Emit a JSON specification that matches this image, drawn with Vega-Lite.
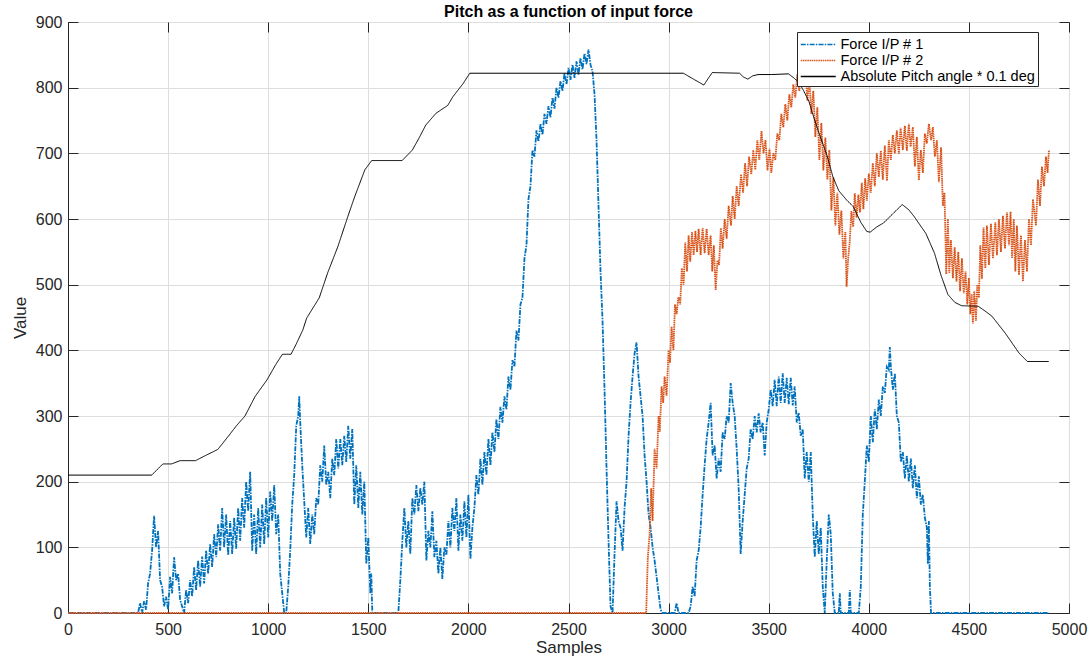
{
"$schema": "https://vega.github.io/schema/vega-lite/v6.json",
"width": 1001,
"height": 591,
"autosize": {"type": "none"},
"padding": {"left": 68, "top": 22, "right": 20, "bottom": 46},
"background": "white",
"title": {"text": "Pitch as a function of input force", "fontSize": 16, "fontWeight": "bold", "font": "Liberation Sans", "color": "#000000", "offset": -6, "anchor": "middle"},
"config": {
  "font": "Liberation Sans",
  "view": {"stroke": "#262626", "strokeWidth": 1},
  "axis": {"domainColor": "#262626", "tickColor": "#262626", "labelColor": "#262626", "titleColor": "#262626", "labelFontSize": 16, "titleFontSize": 17, "titleFontWeight": "normal", "gridColor": "#dedede", "gridOpacity": 1, "tickSize": -10, "labelPadding": 18, "labelFont": "Liberation Sans", "titleFont": "Liberation Sans", "format": "d"},
  "legend": {"orient": "none", "legendX": 729, "legendY": 10, "title": null, "strokeColor": "#262626", "fillColor": "white", "padding": 3, "symbolType": "M-1,0H3", "symbolSize": 306, "symbolStrokeWidth": 1.5, "labelFontSize": 14.5, "labelColor": "#000000", "rowPadding": -1, "labelOffset": 21.5, "labelFont": "Liberation Sans", "labelLimit": 400}
},
"datasets": {
"f1": [
{"x":0,"y":0},{"x":350,"y":0},{"x":360,"y":15},{"x":370,"y":0},{"x":380,"y":18},{"x":390,"y":5},{"x":400,"y":45},{"x":410,"y":60},{"x":420,"y":95},{"x":430,"y":148},{"x":440,"y":100},{"x":450,"y":125},{"x":460,"y":50},{"x":470,"y":40},{"x":480,"y":10},{"x":490,"y":25},{"x":500,"y":5},{"x":510,"y":55},{"x":520,"y":30},{"x":530,"y":85},{"x":540,"y":50},{"x":550,"y":60},{"x":560,"y":20},{"x":570,"y":10},{"x":580,"y":0},{"x":590,"y":35},{"x":600,"y":15},{"x":610,"y":50},{"x":620,"y":25},{"x":630,"y":70},{"x":640,"y":35},{"x":650,"y":80},{"x":660,"y":40},{"x":670,"y":86},{"x":680,"y":45},{"x":690,"y":95},{"x":700,"y":60},{"x":710,"y":105},{"x":720,"y":70},{"x":730,"y":120},{"x":740,"y":85},{"x":750,"y":135},{"x":760,"y":95},{"x":770,"y":160},{"x":780,"y":100},{"x":790,"y":150},{"x":800,"y":88},{"x":810,"y":140},{"x":820,"y":90},{"x":830,"y":145},{"x":840,"y":98},{"x":850,"y":160},{"x":860,"y":110},{"x":870,"y":175},{"x":880,"y":130},{"x":890,"y":200},{"x":900,"y":155},{"x":910,"y":215},{"x":920,"y":95},{"x":930,"y":150},{"x":940,"y":90},{"x":950,"y":160},{"x":960,"y":100},{"x":970,"y":165},{"x":980,"y":105},{"x":990,"y":175},{"x":1000,"y":115},{"x":1010,"y":185},{"x":1020,"y":140},{"x":1030,"y":195},{"x":1040,"y":120},{"x":1050,"y":150},{"x":1060,"y":60},{"x":1070,"y":30},{"x":1080,"y":0},{"x":1090,"y":0},{"x":1100,"y":40},{"x":1110,"y":95},{"x":1120,"y":165},{"x":1130,"y":210},{"x":1140,"y":285},{"x":1150,"y":300},{"x":1155,"y":330},{"x":1160,"y":290},{"x":1170,"y":225},{"x":1180,"y":170},{"x":1190,"y":115},{"x":1200,"y":160},{"x":1210,"y":105},{"x":1220,"y":150},{"x":1230,"y":120},{"x":1240,"y":175},{"x":1250,"y":165},{"x":1260,"y":225},{"x":1270,"y":200},{"x":1280,"y":255},{"x":1290,"y":195},{"x":1300,"y":215},{"x":1310,"y":175},{"x":1320,"y":235},{"x":1330,"y":210},{"x":1340,"y":265},{"x":1350,"y":220},{"x":1360,"y":265},{"x":1370,"y":225},{"x":1380,"y":270},{"x":1390,"y":230},{"x":1400,"y":285},{"x":1410,"y":235},{"x":1420,"y":280},{"x":1430,"y":165},{"x":1440,"y":225},{"x":1450,"y":160},{"x":1460,"y":215},{"x":1470,"y":150},{"x":1480,"y":200},{"x":1490,"y":75},{"x":1500,"y":115},{"x":1510,"y":30},{"x":1515,"y":60},{"x":1520,"y":0},{"x":1650,"y":0},{"x":1660,"y":50},{"x":1670,"y":110},{"x":1680,"y":160},{"x":1690,"y":100},{"x":1700,"y":140},{"x":1710,"y":90},{"x":1720,"y":175},{"x":1730,"y":150},{"x":1740,"y":195},{"x":1750,"y":155},{"x":1760,"y":190},{"x":1770,"y":165},{"x":1780,"y":200},{"x":1790,"y":80},{"x":1800,"y":125},{"x":1810,"y":100},{"x":1820,"y":155},{"x":1830,"y":85},{"x":1840,"y":110},{"x":1850,"y":60},{"x":1860,"y":100},{"x":1870,"y":52},{"x":1880,"y":100},{"x":1890,"y":88},{"x":1900,"y":140},{"x":1910,"y":100},{"x":1920,"y":160},{"x":1930,"y":125},{"x":1940,"y":175},{"x":1950,"y":95},{"x":1960,"y":150},{"x":1970,"y":110},{"x":1980,"y":170},{"x":1990,"y":115},{"x":2000,"y":180},{"x":2010,"y":82},{"x":2020,"y":130},{"x":2030,"y":160},{"x":2040,"y":210},{"x":2050,"y":180},{"x":2060,"y":235},{"x":2070,"y":195},{"x":2080,"y":245},{"x":2090,"y":210},{"x":2100,"y":265},{"x":2110,"y":225},{"x":2120,"y":275},{"x":2130,"y":245},{"x":2140,"y":295},{"x":2150,"y":265},{"x":2160,"y":314},{"x":2170,"y":290},{"x":2180,"y":330},{"x":2190,"y":310},{"x":2200,"y":360},{"x":2210,"y":340},{"x":2220,"y":385},{"x":2230,"y":375},{"x":2240,"y":430},{"x":2250,"y":415},{"x":2260,"y":470},{"x":2270,"y":480},{"x":2280,"y":540},{"x":2290,"y":560},{"x":2300,"y":630},{"x":2310,"y":650},{"x":2320,"y":705},{"x":2330,"y":695},{"x":2340,"y":735},{"x":2350,"y":718},{"x":2360,"y":745},{"x":2370,"y":728},{"x":2380,"y":760},{"x":2390,"y":745},{"x":2400,"y":772},{"x":2410,"y":755},{"x":2420,"y":785},{"x":2430,"y":768},{"x":2440,"y":800},{"x":2450,"y":785},{"x":2460,"y":810},{"x":2470,"y":795},{"x":2480,"y":822},{"x":2490,"y":805},{"x":2500,"y":830},{"x":2510,"y":812},{"x":2520,"y":835},{"x":2530,"y":815},{"x":2540,"y":840},{"x":2550,"y":820},{"x":2560,"y":845},{"x":2570,"y":828},{"x":2580,"y":852},{"x":2590,"y":836},{"x":2600,"y":858},{"x":2610,"y":835},{"x":2620,"y":825},{"x":2630,"y":790},{"x":2640,"y":720},{"x":2650,"y":620},{"x":2660,"y":520},{"x":2670,"y":445},{"x":2680,"y":340},{"x":2690,"y":220},{"x":2700,"y":110},{"x":2710,"y":10},{"x":2720,"y":0},{"x":2730,"y":90},{"x":2740,"y":170},{"x":2750,"y":140},{"x":2760,"y":130},{"x":2770,"y":95},{"x":2780,"y":160},{"x":2790,"y":200},{"x":2800,"y":270},{"x":2810,"y":320},{"x":2820,"y":360},{"x":2830,"y":395},{"x":2840,"y":412},{"x":2850,"y":360},{"x":2860,"y":330},{"x":2870,"y":300},{"x":2880,"y":240},{"x":2890,"y":200},{"x":2900,"y":150},{"x":2910,"y":130},{"x":2920,"y":100},{"x":2930,"y":80},{"x":2940,"y":55},{"x":2950,"y":30},{"x":2960,"y":5},{"x":2970,"y":0},{"x":3030,"y":0},{"x":3040,"y":15},{"x":3050,"y":0},{"x":3100,"y":0},{"x":3110,"y":10},{"x":3120,"y":40},{"x":3130,"y":25},{"x":3140,"y":80},{"x":3150,"y":95},{"x":3160,"y":130},{"x":3170,"y":180},{"x":3180,"y":225},{"x":3190,"y":265},{"x":3200,"y":290},{"x":3210,"y":320},{"x":3220,"y":240},{"x":3230,"y":255},{"x":3240,"y":205},{"x":3250,"y":235},{"x":3260,"y":215},{"x":3270,"y":275},{"x":3280,"y":265},{"x":3290,"y":300},{"x":3300,"y":290},{"x":3310,"y":350},{"x":3320,"y":320},{"x":3330,"y":300},{"x":3340,"y":250},{"x":3350,"y":190},{"x":3360,"y":90},{"x":3370,"y":140},{"x":3380,"y":180},{"x":3390,"y":220},{"x":3400,"y":235},{"x":3410,"y":280},{"x":3420,"y":265},{"x":3430,"y":300},{"x":3440,"y":275},{"x":3450,"y":304},{"x":3460,"y":275},{"x":3470,"y":290},{"x":3480,"y":240},{"x":3490,"y":290},{"x":3500,"y":310},{"x":3510,"y":340},{"x":3520,"y":315},{"x":3530,"y":355},{"x":3540,"y":315},{"x":3550,"y":360},{"x":3560,"y":320},{"x":3570,"y":365},{"x":3580,"y":320},{"x":3590,"y":358},{"x":3600,"y":318},{"x":3610,"y":358},{"x":3620,"y":316},{"x":3630,"y":345},{"x":3640,"y":290},{"x":3650,"y":305},{"x":3660,"y":270},{"x":3670,"y":280},{"x":3680,"y":205},{"x":3690,"y":245},{"x":3700,"y":200},{"x":3710,"y":245},{"x":3720,"y":150},{"x":3730,"y":85},{"x":3740,"y":140},{"x":3750,"y":90},{"x":3760,"y":130},{"x":3770,"y":40},{"x":3780,"y":0},{"x":3790,"y":80},{"x":3800,"y":150},{"x":3810,"y":120},{"x":3820,"y":30},{"x":3830,"y":0},{"x":3850,"y":0},{"x":3855,"y":30},{"x":3860,"y":0},{"x":3900,"y":0},{"x":3905,"y":35},{"x":3910,"y":0},{"x":3950,"y":0},{"x":3960,"y":40},{"x":3970,"y":150},{"x":3980,"y":200},{"x":3990,"y":255},{"x":4000,"y":230},{"x":4010,"y":300},{"x":4020,"y":260},{"x":4030,"y":310},{"x":4040,"y":280},{"x":4050,"y":325},{"x":4060,"y":300},{"x":4070,"y":345},{"x":4080,"y":335},{"x":4090,"y":375},{"x":4100,"y":370},{"x":4105,"y":405},{"x":4110,"y":375},{"x":4120,"y":340},{"x":4130,"y":365},{"x":4140,"y":300},{"x":4150,"y":290},{"x":4160,"y":230},{"x":4170,"y":245},{"x":4180,"y":205},{"x":4190,"y":240},{"x":4200,"y":200},{"x":4210,"y":235},{"x":4220,"y":190},{"x":4230,"y":225},{"x":4240,"y":175},{"x":4250,"y":208},{"x":4260,"y":165},{"x":4270,"y":180},{"x":4280,"y":145},{"x":4290,"y":130},{"x":4295,"y":75},{"x":4300,"y":140},{"x":4305,"y":40},{"x":4311,"y":0},{"x":4900,"y":0}
],
"f2": [
{"x":0,"y":0},{"x":2888,"y":0},{"x":2896,"y":83},{"x":2905,"y":120},{"x":2913,"y":190},{"x":2920,"y":140},{"x":2930,"y":250},{"x":2940,"y":220},{"x":2950,"y":300},{"x":2956,"y":276},{"x":2965,"y":345},{"x":2973,"y":320},{"x":2980,"y":360},{"x":2990,"y":331},{"x":3000,"y":400},{"x":3007,"y":381},{"x":3015,"y":436},{"x":3024,"y":400},{"x":3032,"y":470},{"x":3040,"y":455},{"x":3049,"y":481},{"x":3058,"y":470},{"x":3066,"y":525},{"x":3075,"y":500},{"x":3083,"y":564},{"x":3092,"y":520},{"x":3100,"y":575},{"x":3108,"y":535},{"x":3117,"y":580},{"x":3125,"y":545},{"x":3134,"y":582},{"x":3142,"y":550},{"x":3150,"y":585},{"x":3160,"y":545},{"x":3170,"y":586},{"x":3180,"y":548},{"x":3190,"y":585},{"x":3200,"y":545},{"x":3210,"y":575},{"x":3218,"y":520},{"x":3226,"y":560},{"x":3235,"y":492},{"x":3244,"y":537},{"x":3252,"y":530},{"x":3261,"y":586},{"x":3270,"y":555},{"x":3280,"y":600},{"x":3290,"y":570},{"x":3300,"y":620},{"x":3312,"y":590},{"x":3320,"y":635},{"x":3330,"y":600},{"x":3340,"y":650},{"x":3350,"y":620},{"x":3362,"y":668},{"x":3372,"y":640},{"x":3382,"y":685},{"x":3392,"y":650},{"x":3402,"y":695},{"x":3413,"y":668},{"x":3423,"y":705},{"x":3433,"y":675},{"x":3443,"y":720},{"x":3453,"y":690},{"x":3464,"y":734},{"x":3474,"y":700},{"x":3484,"y":720},{"x":3494,"y":674},{"x":3504,"y":707},{"x":3513,"y":670},{"x":3523,"y":700},{"x":3533,"y":690},{"x":3543,"y":730},{"x":3553,"y":720},{"x":3563,"y":760},{"x":3573,"y":740},{"x":3583,"y":775},{"x":3593,"y":750},{"x":3603,"y":790},{"x":3613,"y":770},{"x":3623,"y":805},{"x":3633,"y":785},{"x":3643,"y":820},{"x":3653,"y":795},{"x":3663,"y":830},{"x":3673,"y":812},{"x":3683,"y":834},{"x":3693,"y":780},{"x":3703,"y":813},{"x":3713,"y":760},{"x":3723,"y":795},{"x":3733,"y":725},{"x":3743,"y":770},{"x":3753,"y":690},{"x":3763,"y":746},{"x":3773,"y":674},{"x":3783,"y":724},{"x":3793,"y":660},{"x":3803,"y":705},{"x":3813,"y":613},{"x":3823,"y":663},{"x":3833,"y":590},{"x":3843,"y":640},{"x":3853,"y":576},{"x":3863,"y":613},{"x":3873,"y":540},{"x":3883,"y":580},{"x":3889,"y":497},{"x":3897,"y":540},{"x":3905,"y":566},{"x":3913,"y":612},{"x":3922,"y":588},{"x":3930,"y":639},{"x":3939,"y":602},{"x":3948,"y":637},{"x":3956,"y":610},{"x":3965,"y":655},{"x":3973,"y":615},{"x":3982,"y":662},{"x":3990,"y":628},{"x":4000,"y":669},{"x":4010,"y":640},{"x":4020,"y":685},{"x":4030,"y":650},{"x":4040,"y":700},{"x":4050,"y":664},{"x":4060,"y":704},{"x":4070,"y":660},{"x":4080,"y":712},{"x":4091,"y":658},{"x":4100,"y":720},{"x":4110,"y":690},{"x":4120,"y":728},{"x":4130,"y":700},{"x":4140,"y":735},{"x":4150,"y":699},{"x":4159,"y":739},{"x":4170,"y":705},{"x":4180,"y":742},{"x":4190,"y":704},{"x":4200,"y":745},{"x":4209,"y":710},{"x":4220,"y":740},{"x":4230,"y":680},{"x":4240,"y":725},{"x":4250,"y":659},{"x":4260,"y":705},{"x":4270,"y":670},{"x":4280,"y":730},{"x":4290,"y":715},{"x":4300,"y":745},{"x":4311,"y":720},{"x":4320,"y":740},{"x":4330,"y":695},{"x":4340,"y":720},{"x":4350,"y":656},{"x":4361,"y":709},{"x":4370,"y":620},{"x":4378,"y":640},{"x":4387,"y":516},{"x":4395,"y":600},{"x":4402,"y":518},{"x":4410,"y":568},{"x":4420,"y":510},{"x":4429,"y":557},{"x":4438,"y":505},{"x":4447,"y":550},{"x":4456,"y":490},{"x":4465,"y":540},{"x":4474,"y":487},{"x":4483,"y":520},{"x":4492,"y":470},{"x":4500,"y":510},{"x":4507,"y":455},{"x":4514,"y":486},{"x":4520,"y":441},{"x":4527,"y":490},{"x":4535,"y":445},{"x":4542,"y":500},{"x":4550,"y":480},{"x":4557,"y":560},{"x":4565,"y":509},{"x":4573,"y":587},{"x":4582,"y":525},{"x":4590,"y":590},{"x":4600,"y":530},{"x":4610,"y":593},{"x":4620,"y":540},{"x":4632,"y":595},{"x":4640,"y":545},{"x":4650,"y":600},{"x":4660,"y":550},{"x":4670,"y":605},{"x":4680,"y":555},{"x":4690,"y":610},{"x":4700,"y":560},{"x":4708,"y":611},{"x":4716,"y":540},{"x":4724,"y":600},{"x":4732,"y":520},{"x":4740,"y":590},{"x":4750,"y":515},{"x":4760,"y":575},{"x":4770,"y":505},{"x":4780,"y":568},{"x":4790,"y":520},{"x":4800,"y":600},{"x":4810,"y":560},{"x":4820,"y":630},{"x":4835,"y":590},{"x":4845,"y":660},{"x":4855,"y":620},{"x":4865,"y":680},{"x":4875,"y":650},{"x":4885,"y":695},{"x":4893,"y":670},{"x":4900,"y":705}
],
"p": [
{"x":0,"y":210},{"x":418,"y":210},{"x":474,"y":227},{"x":517,"y":227},{"x":560,"y":232},{"x":637,"y":232},{"x":688,"y":240},{"x":748,"y":249},{"x":790,"y":265},{"x":841,"y":285},{"x":884,"y":300},{"x":935,"y":330},{"x":994,"y":355},{"x":1037,"y":378},{"x":1071,"y":394},{"x":1114,"y":394},{"x":1139,"y":409},{"x":1173,"y":431},{"x":1192,"y":449},{"x":1255,"y":480},{"x":1297,"y":518},{"x":1348,"y":558},{"x":1398,"y":604},{"x":1432,"y":634},{"x":1483,"y":675},{"x":1517,"y":689},{"x":1669,"y":689},{"x":1720,"y":705},{"x":1753,"y":723},{"x":1787,"y":743},{"x":1838,"y":761},{"x":1897,"y":773},{"x":1922,"y":786},{"x":1973,"y":806},{"x":2007,"y":822},{"x":3074,"y":822},{"x":3130,"y":812},{"x":3176,"y":804},{"x":3200,"y":815},{"x":3218,"y":823},{"x":3354,"y":822},{"x":3375,"y":816},{"x":3396,"y":813},{"x":3420,"y":818},{"x":3447,"y":820},{"x":3515,"y":820},{"x":3599,"y":821},{"x":3625,"y":815},{"x":3650,"y":808},{"x":3675,"y":795},{"x":3701,"y":779},{"x":3725,"y":755},{"x":3752,"y":730},{"x":3790,"y":698},{"x":3821,"y":664},{"x":3850,"y":643},{"x":3889,"y":629},{"x":3922,"y":619},{"x":3960,"y":595},{"x":3990,"y":581},{"x":4007,"y":580},{"x":4040,"y":588},{"x":4074,"y":594},{"x":4120,"y":608},{"x":4167,"y":622},{"x":4200,"y":614},{"x":4226,"y":604},{"x":4285,"y":578},{"x":4328,"y":548},{"x":4360,"y":515},{"x":4395,"y":485},{"x":4430,"y":473},{"x":4463,"y":468},{"x":4547,"y":467},{"x":4580,"y":460},{"x":4615,"y":452},{"x":4682,"y":426},{"x":4750,"y":396},{"x":4792,"y":383},{"x":4899,"y":383}
]
},
"layer": [
{
  "data": {"name": "f1"},
  "mark": {"type": "line", "strokeWidth": 1.8},
  "encoding": {
    "x": {"field": "x", "type": "quantitative", "scale": {"domain": [0, 5000], "nice": false, "zero": false}, "axis": {"orient": "bottom", "title": "Samples", "values": [0,500,1000,1500,2000,2500,3000,3500,4000,4500,5000], "titlePadding": 2, "labelFlush": false}},
    "y": {"field": "y", "type": "quantitative", "scale": {"domain": [0, 900], "nice": false}, "axis": {"orient": "left", "title": "Value", "values": [0,100,200,300,400,500,600,700,800,900], "titlePadding": 6, "labelPadding": 16}},
    "color": {"datum": "Force I/P # 1", "type": "nominal", "scale": {"domain": ["Force I/P # 1", "Force I/P # 2", "Absolute Pitch angle * 0.1 deg"], "range": ["#0072BD", "#D95319", "#000000"]}},
    "strokeDash": {"datum": "Force I/P # 1", "type": "nominal", "scale": {"domain": ["Force I/P # 1", "Force I/P # 2", "Absolute Pitch angle * 0.1 deg"], "range": [[5, 1.2, 1.5, 1.2], [1.5, 0.7], [1, 0]]}}
  }
},
{
  "data": {"name": "f2"},
  "mark": {"type": "line", "strokeWidth": 1.8},
  "encoding": {
    "x": {"field": "x", "type": "quantitative", "axis": null},
    "y": {"field": "y", "type": "quantitative", "axis": null},
    "color": {"datum": "Force I/P # 2", "type": "nominal"},
    "strokeDash": {"datum": "Force I/P # 2", "type": "nominal"}
  }
},
{
  "data": {"name": "p"},
  "mark": {"type": "line", "strokeWidth": 1},
  "encoding": {
    "x": {"field": "x", "type": "quantitative", "axis": null},
    "y": {"field": "y", "type": "quantitative", "axis": null},
    "color": {"datum": "Absolute Pitch angle * 0.1 deg", "type": "nominal"},
    "strokeDash": {"datum": "Absolute Pitch angle * 0.1 deg", "type": "nominal"}
  }
},
{
  "data": {"name": "p"},
  "mark": {"type": "line", "opacity": 0},
  "encoding": {
    "x": {"field": "x", "type": "quantitative", "axis": {"orient": "top", "labels": false, "title": null, "grid": false, "domain": false, "labelPadding": 0, "minExtent": 0, "maxExtent": 0, "values": [0,500,1000,1500,2000,2500,3000,3500,4000,4500,5000]}},
    "y": {"field": "y", "type": "quantitative", "axis": {"orient": "right", "labels": false, "title": null, "grid": false, "domain": false, "labelPadding": 0, "minExtent": 0, "maxExtent": 0, "values": [0,100,200,300,400,500,600,700,800,900]}}
  }
}
],
"resolve": {"axis": {"x": "independent", "y": "independent"}}
}
